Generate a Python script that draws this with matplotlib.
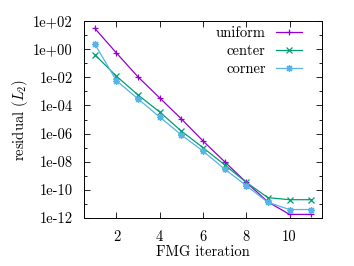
import matplotlib
import matplotlib.pyplot as plt
import numpy as np

plt.rcParams["font.family"] = "cmr10"
plt.rcParams["mathtext.fontset"] = "cm"
plt.rcParams["axes.unicode_minus"] = False

iterations = [1, 2, 3, 4, 5, 6, 7, 8, 9, 10, 11]
uniform = [30, 0.53, 0.0105, 3.4e-4, 1.1e-5, 3e-7, 1e-8, 3.4e-10, 1.4e-11, 1.8e-12, 1.8e-12]
center = [0.4, 0.012, 5.5e-4, 3.4e-5, 1.5e-6, 1e-7, 6e-9, 3.4e-10, 2.8e-11, 2e-11, 2e-11]
corner = [2.3, 5.7e-3, 2.9e-4, 1.5e-5, 8e-7, 5.7e-8, 3e-9, 2e-10, 1.3e-11, 4e-12, 4e-12]

ytick_vals = [1e2, 1e0, 1e-2, 1e-4, 1e-6, 1e-8, 1e-10, 1e-12]
ytick_labels = ["1e+02", "1e+00", "1e-02", "1e-04", "1e-06", "1e-08", "1e-10", "1e-12"]

FONT_SIZE = 10.5

fig = plt.figure(figsize=(3.54, 2.66), dpi=100)
ax = fig.add_axes([84 / 354, 48 / 266, 238 / 354, 197 / 266])

ax.plot(iterations, uniform, color="#9400d3", lw=0.9, marker="+", ms=5, mew=0.9, label="uniform")
ax.plot(iterations, center, color="#009e73", lw=0.9, marker="x", ms=4, mew=0.9, label="center")
ax.plot(iterations, corner, color="#56b4e9", lw=0.9, marker=(8, 2, 0), ms=5, mew=0.9, label="corner")

ax.set_yscale("log")
ax.set_ylim(1e-12, 1e2)
ax.set_xlim(0.5, 11.5)
ax.set_yticks(ytick_vals)
ax.set_yticklabels(ytick_labels, fontsize=FONT_SIZE)
ax.set_yticks([10.0 ** k for k in range(-11, 2, 2)], minor=True)
ax.yaxis.set_minor_formatter(matplotlib.ticker.NullFormatter())
ax.set_xticks([2, 4, 6, 8, 10])
ax.set_xticklabels(["2", "4", "6", "8", "10"], fontsize=FONT_SIZE)

ax.tick_params(which="both", direction="in", top=True, right=True, width=0.6)
ax.tick_params(which="major", length=4)
ax.tick_params(axis="x", which="major", pad=9)
ax.tick_params(axis="y", which="major", pad=8)
ax.tick_params(which="minor", length=2)
for s in ax.spines.values():
    s.set_linewidth(0.7)

ax.set_xlabel("FMG iteration", fontsize=FONT_SIZE, labelpad=1)
ax.set_ylabel("residual ($L_2$)", fontsize=FONT_SIZE, labelpad=2)

leg = ax.legend(loc="upper right", frameon=False, markerfirst=False, fontsize=FONT_SIZE,
                borderpad=0, borderaxespad=0, handlelength=1.8, handletextpad=0.7,
                labelspacing=0.3)
leg.set_bbox_to_anchor((302 / 354, 1 - 26 / 266), transform=fig.transFigure)

fig.savefig("out.png", dpi=100)
